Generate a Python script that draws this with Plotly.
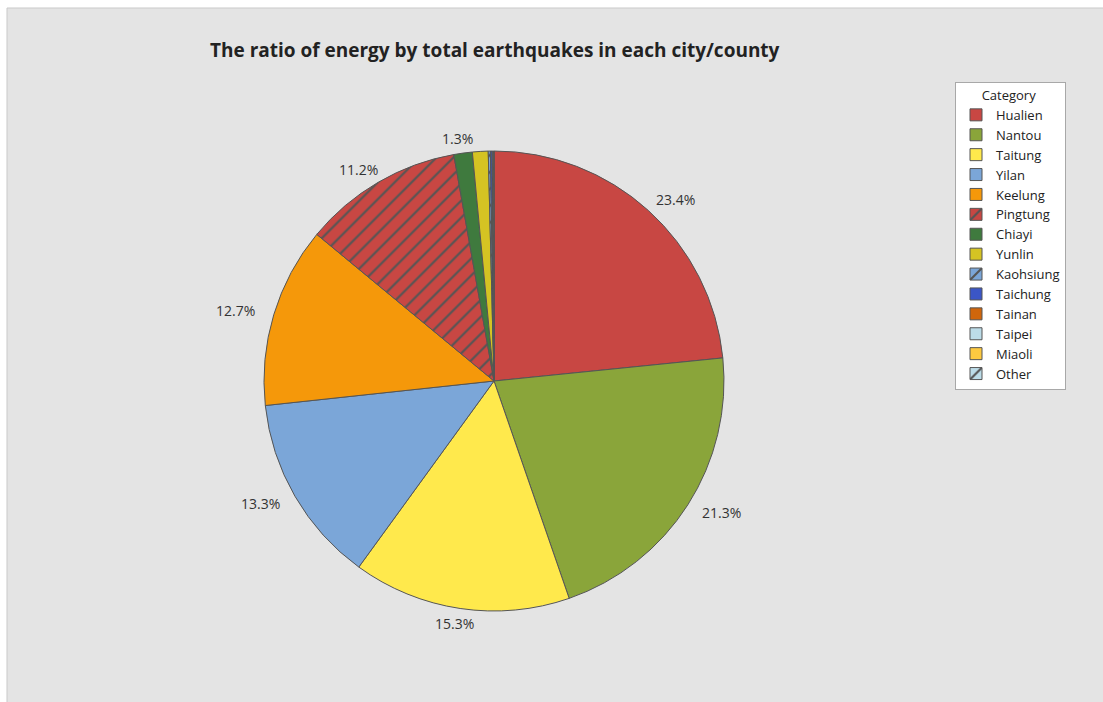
import math
import plotly.graph_objects as go

# ---- data ----
categories = ["Hualien", "Nantou", "Taitung", "Yilan", "Keelung", "Pingtung", "Chiayi",
              "Yunlin", "Kaohsiung", "Taichung", "Tainan", "Taipei", "Miaoli", "Other"]
percents = [23.4, 21.3, 15.3, 13.3, 12.7, 11.2, 1.3, 1.1, 0.15, 0.12, 0.05, 0.04, 0.03, 0.01]
colors = ["#c84743", "#8aa53a", "#ffe94c", "#7ba6d8", "#f5980a", "#c84743", "#3f7a3e",
          "#d5c323", "#7ba6d8", "#3b56c6", "#d0660c", "#bcdce8", "#fdc940", "#bcdce8"]
hatched = ["Pingtung", "Kaohsiung", "Other"]
labelled = ["Hualien", "Nantou", "Taitung", "Yilan", "Keelung", "Pingtung", "Chiayi"]
title_text = "The ratio of energy by total earthquakes in each city/county"

# ---- geometry ----
W, H = 1103, 702
CX, CY, R = 494, 381, 230
LABEL_RX, LABEL_RY = 270, 245

shapes_pat = ["/" if c in hatched else "" for c in categories]
FONT = "Open Sans, Noto Sans, sans-serif"

fig = go.Figure(go.Pie(
    labels=categories,
    values=percents,
    sort=False,
    direction="clockwise",
    rotation=0,
    textinfo="none",
    hoverinfo="label+percent",
    marker=dict(
        colors=colors,
        line=dict(color="#555555", width=1),
        pattern=dict(shape=shapes_pat, fgcolor="#555555", bgcolor=colors,
                     size=12, solidity=0.18, fillmode="replace"),
    ),
    domain=dict(x=[(CX - R) / W, (CX + R) / W], y=[1 - (CY + R) / H, 1 - (CY - R) / H]),
    showlegend=True,
))

# percentage labels around the pie, placed from cumulative values
annotations = []
total = sum(percents)
cum = 0.0
for cat, v in zip(categories, percents):
    mid = (cum + v / 2) / total * 2 * math.pi
    cum += v
    if cat not in labelled:
        continue
    px = CX + LABEL_RX * math.sin(mid)
    py = CY - LABEL_RY * math.cos(mid)
    annotations.append(dict(
        x=px / W, y=1 - py / H, xref="paper", yref="paper",
        text=f"{v:.1f}%", showarrow=False, xanchor="center", yanchor="middle",
        font=dict(size=14, color="#333333", family=FONT),
    ))

annotations.append(dict(
    x=495 / W, y=1 - 50 / H, xref="paper", yref="paper", showarrow=False,
    text=f"<b>{title_text}</b>", xanchor="center", yanchor="middle",
    font=dict(size=19, color="#222222", family=FONT),
))

fig.update_layout(
    width=W, height=H,
    margin=dict(l=0, r=0, t=0, b=0),
    paper_bgcolor="white",
    plot_bgcolor="white",
    annotations=annotations,
    shapes=[dict(type="rect", xref="paper", yref="paper", x0=7 / W, x1=1.01,
                 y0=-0.01, y1=1 - 8 / H, fillcolor="#e4e4e4",
                 line=dict(color="#c9c9c9", width=1), layer="below")],
    legend=dict(
        x=955 / W, y=1 - 82 / H, xanchor="left", yanchor="top",
        bgcolor="white", bordercolor="#a8a8a8", borderwidth=1,
        font=dict(size=13, color="#222222", family=FONT),
        title=dict(text="\u00a0\u00a0\u00a0\u00a0\u00a0\u00a0\u00a0Category",
                   font=dict(size=13, color="#222222", family=FONT)),
        tracegroupgap=0, itemwidth=30,
    ),
)

fig.write_html("out.html")
